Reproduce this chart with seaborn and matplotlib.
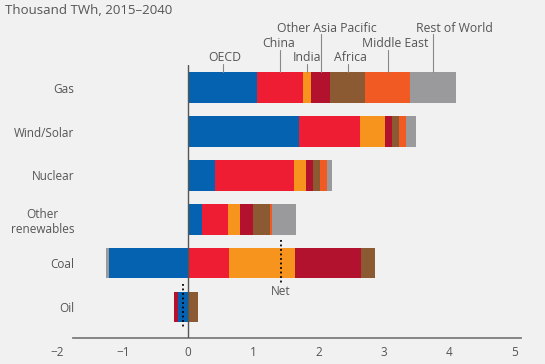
import numpy as np
import pandas as pd
import matplotlib.pyplot as plt
import seaborn as sns

# ── Data (thousand TWh, change 2015-2040) ─────────────────
fuels = ["Gas", "Wind/Solar", "Nuclear", "Other\nrenewables", "Coal", "Oil"]
regions = ["OECD", "China", "India", "Other Asia Pacific",
           "Africa", "Middle East", "Rest of World"]

oecd        = [1.06, 1.70, 0.42, 0.22, -1.21, -0.16]
china       = [0.70, 0.94, 1.20, 0.40,  0.63,  0.00]
india       = [0.13, 0.38, 0.19, 0.18,  1.01,  0.00]
other_ap    = [0.29, 0.11, 0.10, 0.19,  1.01, -0.05]
africa      = [0.54, 0.10, 0.11, 0.27,  0.22,  0.16]
middle_east = [0.69, 0.11, 0.11, 0.02,  0.00,  0.00]
rest_world  = [0.69, 0.16, 0.07, 0.37, -0.04,  0.00]

net = [np.nan, np.nan, np.nan, np.nan, 1.42, -0.08]

colores = ["#0562B0", "#EE1D33", "#F7941D", "#B3122E",
           "#8C5A32", "#F15A22", "#9A9A9C"]

df = pd.DataFrame(
    np.array([oecd, china, india, other_ap, africa, middle_east, rest_world]).T,
    index=fuels, columns=regions)

# ── Style ─────────────────────────────────────────────────
BG = "#F1F1F1"
TXT = "#555555"
sns.set_theme(style="white")
plt.rcParams["font.family"] = ["Open Sans", "DejaVu Sans"]

fig = plt.figure(figsize=(5.45, 3.64), dpi=100, facecolor=BG)
ax = fig.add_axes([0.1055, 0.0714, 0.85, 0.75], facecolor=BG)

# ── Stacked bars: draw cumulative sums, largest first ─────
pos = df.clip(lower=0).cumsum(axis=1)
neg = df.clip(upper=0).cumsum(axis=1)
for cum in (pos, neg):
    for reg, col in reversed(list(zip(regions, colores))):
        sns.barplot(x=cum[reg].values, y=fuels, orient="h", color=col,
                    saturation=1, width=0.7, errorbar=None,
                    linewidth=0, ax=ax)

# ── Axes ──────────────────────────────────────────────────
ax.set_xlim(-2, 5.1)
ax.set_ylim(5.71, -0.52)
ax.set_xticks(range(-2, 6))
ax.axvline(0, color="#555555", lw=1, zorder=5)
for s in ["top", "right", "left"]:
    ax.spines[s].set_visible(False)
ax.spines["bottom"].set_color("#777777")
ax.spines["bottom"].set_bounds(-1.77, 5.1)
ax.tick_params(axis="x", length=0, pad=6, labelsize=8.5, labelcolor=TXT)
ax.tick_params(axis="y", length=0, pad=-12, labelsize=8.5, labelcolor=TXT)
for lbl in ax.get_yticklabels():
    lbl.set_multialignment("center")
ax.set_xlabel("")
ax.set_ylabel("")

# ── Net markers ───────────────────────────────────────────
for i, v in enumerate(net):
    if np.isnan(v):
        continue
    ax.plot([v, v], [i - 0.52, i + 0.46], color="black", lw=1.3,
            ls=(0, (1, 1.5)), zorder=6)
ax.text(net[4], 4.66, "Net", ha="center", va="center",
        fontsize=8.5, color=TXT)

# ── Region labels with leader lines on the Gas bar ────────
gas = df.loc["Gas"]
mids = (gas.cumsum() - gas / 2).values
label_y = [-0.68, -1.0, -0.68, -1.35, -0.68, -1.0, -1.35]
label_dx = [0.03, -0.02, 0.0, 0.09, 0.04, 0.11, 0.33]
for reg, m, ly, dx in zip(regions, mids, label_y, label_dx):
    ax.plot([m, m], [-0.35, ly + 0.13], color="#888888", lw=0.8,
            clip_on=False, zorder=4)
    ax.text(m + dx, ly, reg, ha="center", va="center", fontsize=8.8,
            color=TXT, clip_on=False)

fig.text(0.009, 0.972, "Thousand TWh, 2015\u20132040", ha="left",
         va="center", fontsize=9.5, color=TXT)

fig.savefig("out.png", dpi=100, facecolor=BG)
